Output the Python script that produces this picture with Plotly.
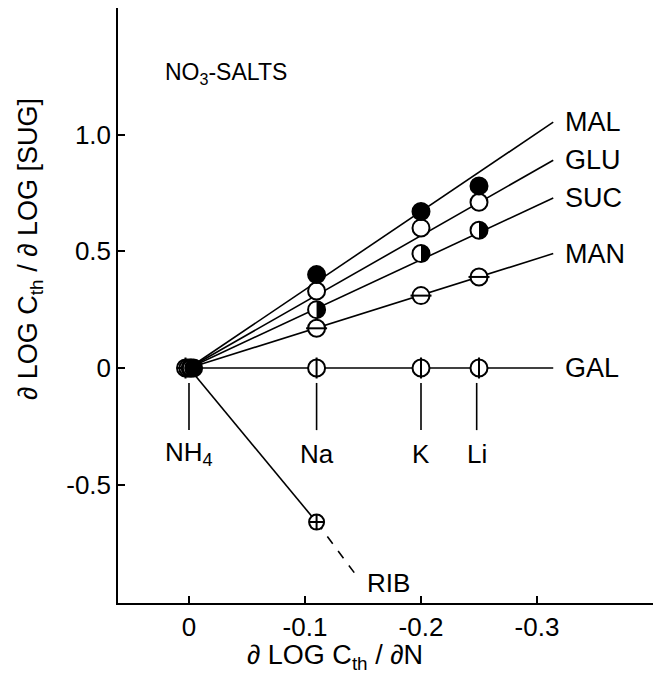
import plotly.graph_objects as go

# ---------------- data ----------------
salts = ["NH4", "Na", "K", "Li"]
salt_x = [0.0, -0.11, -0.20, -0.248]          # dlogCth/dN for each salt

sugars = ["MAL", "GLU", "SUC", "MAN", "GAL"]
# x-positions of plotted points (first = NH4 reference cluster, slightly spread)
mal_x = [-0.004, -0.11, -0.20, -0.25]
glu_x = [-0.002, -0.11, -0.20, -0.25]
suc_x = [-0.001, -0.11, -0.20, -0.25]
man_x = [0.001, -0.11, -0.20, -0.25]
gal_x = [0.003, -0.11, -0.20, -0.25]

mal_y = [0.0, 0.40, 0.67, 0.78]
glu_y = [0.0, 0.33, 0.60, 0.71]
suc_y = [0.0, 0.25, 0.49, 0.59]
man_y = [0.0, 0.17, 0.31, 0.39]
gal_y = [0.0, 0.0, 0.0, 0.0]

# fitted lines: from origin to end point
line_end_x = -0.314
line_end_y = {"MAL": 1.053, "GLU": 0.89, "SUC": 0.728, "MAN": 0.49, "GAL": 0.0}

rib_x = [0.0, -0.11]
rib_y = [0.0, -0.66]
rib_ext_x = [-0.11, -0.146]
rib_ext_y = [-0.66, -0.90]

label_x = -0.322
salt_tick_y = [-0.064, -0.266]
salt_label_y = -0.368

x_ticks = [0, -0.1, -0.2, -0.3]
x_ticktext = ["0", "-0.1", "-0.2", "-0.3"]
y_ticks = [1.0, 0.5, 0, -0.5]
y_ticktext = ["1.0", "0.5", "0", "-0.5"]

FONT = "Liberation Sans, Arial, sans-serif"
MS = 17
NB = "\u00a0"

fig = go.Figure()

# lines
for name in sugars:
    fig.add_trace(go.Scatter(x=[0, line_end_x], y=[0, line_end_y[name]], mode="lines",
                             line=dict(color="black", width=1.6), hoverinfo="skip"))
fig.add_trace(go.Scatter(x=rib_x, y=rib_y, mode="lines", line=dict(color="black", width=1.6)))
fig.add_trace(go.Scatter(x=rib_ext_x, y=rib_ext_y, mode="lines",
                         line=dict(color="black", width=1.6, dash="dash")))

# salt marker ticks
for sx in salt_x:
    fig.add_trace(go.Scatter(x=[sx, sx], y=salt_tick_y, mode="lines",
                             line=dict(color="black", width=1.6)))

mk_line = dict(color="black", width=2)
# GAL: circle with vertical bar
fig.add_trace(go.Scatter(x=gal_x, y=gal_y, mode="markers",
                         marker=dict(symbol="circle", size=MS, color="white", line=mk_line)))
fig.add_trace(go.Scatter(x=gal_x, y=gal_y, mode="markers",
                         marker=dict(symbol="line-ns-open", size=MS - 2, color="black", line=mk_line)))
# MAN: circle with horizontal bar
fig.add_trace(go.Scatter(x=man_x, y=man_y, mode="markers",
                         marker=dict(symbol="circle", size=MS, color="white", line=mk_line)))
fig.add_trace(go.Scatter(x=man_x, y=man_y, mode="markers",
                         marker=dict(symbol="line-ew-open", size=MS - 2, color="black", line=mk_line)))
# SUC: half-filled circle (outline here, right half filled with shapes below)
fig.add_trace(go.Scatter(x=suc_x, y=suc_y, mode="markers",
                         marker=dict(symbol="circle", size=MS, color="white", line=mk_line)))
# GLU: open circle
fig.add_trace(go.Scatter(x=glu_x, y=glu_y, mode="markers",
                         marker=dict(symbol="circle", size=MS, color="white", line=mk_line)))
# MAL: filled circle
fig.add_trace(go.Scatter(x=mal_x, y=mal_y, mode="markers",
                         marker=dict(symbol="circle", size=MS, color="black", line=mk_line)))
# RIB: circle with cross
fig.add_trace(go.Scatter(x=rib_x[1:], y=rib_y[1:], mode="markers",
                         marker=dict(symbol="circle-cross", size=MS - 2, color="white", line=mk_line)))

# half-filled discs for SUC (pixel-sized paths anchored at the data points)
r = MS / 2
k = 0.5523 * r
half_path = (f"M 0,{r} C {k},{r} {r},{k} {r},0 C {r},{-k} {k},{-r} 0,{-r} Z")
shapes = []
for sx, sy in zip(suc_x, suc_y):
    shapes.append(dict(type="path", xref="x", yref="y", xsizemode="pixel", ysizemode="pixel",
                       xanchor=sx, yanchor=sy, path=half_path,
                       fillcolor="black", line=dict(width=0), layer="above"))

annotations = []
for name in sugars:
    annotations.append(dict(x=label_x, y=line_end_y[name], text=name, xanchor="left", yanchor="middle",
                            showarrow=False, font=dict(family=FONT, size=27, color="black")))
annotations.append(dict(x=-0.152, y=-0.92, text="RIB", xanchor="left", yanchor="middle",
                        showarrow=False, font=dict(family=FONT, size=26, color="black")))
salt_text = ["NH<sub>4</sub>", "Na", "K", "Li"]
for sx, st in zip(salt_x, salt_text):
    annotations.append(dict(x=sx, y=salt_label_y, text=st, xanchor="center", yanchor="middle",
                            showarrow=False, font=dict(family=FONT, size=26, color="black")))
annotations.append(dict(x=0.022, y=1.26, text="NO<sub>3</sub>-SALTS", xanchor="left", yanchor="middle",
                        showarrow=False, font=dict(family=FONT, size=23, color="black")))
annotations.append(dict(xref="paper", yref="paper", x=(335 - 118) / 535, y=(603 - 657) / 595,
                        text=f"∂{NB}LOG{NB}C<sub>th</sub>{NB}/{NB}∂N", xanchor="center", yanchor="middle",
                        showarrow=False, font=dict(family=FONT, size=27, color="black")))
annotations.append(dict(xref="paper", yref="paper", x=(30 - 118) / 535, y=(603 - 249) / 595,
                        text=f"∂{NB}LOG{NB}C<sub>th</sub>{NB}/{NB}∂{NB}LOG{NB}[SUG]", textangle=-90,
                        xanchor="center", yanchor="middle",
                        showarrow=False, font=dict(family=FONT, size=27, color="black")))

fig.update_layout(
    width=653, height=682, margin=dict(l=118, r=0, t=8, b=79),
    paper_bgcolor="white", plot_bgcolor="white", showlegend=False,
    annotations=annotations, shapes=shapes,
)
fig.update_xaxes(range=[0.0612, -0.4], tickvals=x_ticks, ticktext=x_ticktext,
                 ticks="inside", ticklen=7, tickwidth=1.5, tickcolor="black",
                 showline=True, linecolor="black", linewidth=1.5, showgrid=False, zeroline=False,
                 tickfont=dict(family=FONT, size=26, color="black"))
fig.update_yaxes(range=[-1.0064, 1.5418], tickvals=y_ticks, ticktext=y_ticktext,
                 ticks="inside", ticklen=7, tickwidth=1.5, tickcolor="black",
                 showline=True, linecolor="black", linewidth=1.5, showgrid=False, zeroline=False,
                 tickfont=dict(family=FONT, size=26, color="black"))

fig.write_html("out.html")
